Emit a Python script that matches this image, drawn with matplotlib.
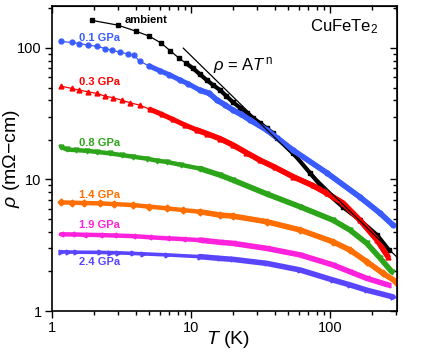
import numpy as np
import matplotlib.pyplot as plt
from matplotlib.ticker import LogLocator, NullFormatter, FixedLocator, FixedFormatter

plt.rcParams['font.family'] = ['Liberation Sans', 'DejaVu Sans']
plt.rcParams['mathtext.fontset'] = 'custom'
plt.rcParams['mathtext.rm'] = 'Liberation Sans'
plt.rcParams['mathtext.it'] = 'Liberation Sans:italic'

# ---- data (T in K, rho in mOhm-cm) ----
T_amb = [1.94, 2.98, 4.02, 4.99, 6.09, 7.06, 8.2, 9.2, 10.3, 11.6, 13.0, 14.5, 16.2,
         18.0, 20.0, 22.5, 25.3, 28.0, 31.4, 35.0, 38.9, 41.6, 54.2, 71.8, 95.1,
         124, 164, 218, 266]
rho_amb = [162, 149, 134, 123, 109, 95.5, 83.6, 76.5, 70.2, 63.0, 56.9, 52.0, 47.8,
           43.0, 38.7, 35.2, 32.0, 29.3, 26.8, 24.5, 22.5, 20.6, 15.9, 11.2, 7.88,
           6.17, 4.91, 3.78, 2.9]

T_01 = [1.155, 1.39, 1.57, 1.82, 2.10, 2.41, 2.69, 3.08, 3.54, 3.89, 4.29, 5.0,
        5.98, 7.0, 8.34, 9.5, 11.6, 13.5, 15.4, 17.5, 20.0, 23.0, 26.6, 35.2,
        54.2, 95.1, 164, 229, 284]
rho_01 = [112, 110, 108, 105, 103, 99, 96, 93, 89.7, 88.0, 79.0, 73.0,
          67.0, 62.5, 57.0, 53.5, 47.7, 45.2, 40.1, 37.0, 33.7, 31.2, 28.3, 23.7,
          16.7, 11.2, 7.35, 5.55, 4.5]

T_03 = [1.155, 1.39, 1.57, 1.82, 2.10, 2.41, 2.76, 3.17, 3.64, 4.29, 5.07,
        6.2, 7.42, 9.0, 11.0, 13.0, 16.2, 20.0, 25.0, 31.4, 40.0, 54.2, 75.0,
        95.1, 124, 164, 218, 261]
rho_03 = [51.3, 49.2, 47.8, 46.4, 45.1, 43.0, 41.8, 40.1, 38.3, 36.7, 34.1,
          31.2, 28.6, 26.0, 23.8, 22.3, 20.4, 18.3, 16.0, 14.0, 12.4, 10.5, 9.0,
          7.84, 6.62, 4.91, 3.46, 2.59]

T_08 = [1.16, 1.28, 1.5, 1.8, 2.1, 2.6, 3.2, 3.83, 4.8, 5.7, 6.7, 8.5, 11.6, 16.2,
        20.0, 35.2, 61, 105, 139, 184, 229, 278]
rho_08 = [17.7, 16.9, 16.7, 16.5, 16.2, 15.8, 15.3, 14.9, 14.4, 13.9, 13.6, 12.9, 12.1, 10.8,
          9.9, 7.75, 6.2, 4.91, 4.13, 3.27, 2.53, 1.99]

T_14 = [1.16, 1.4, 1.7, 2.21, 2.8, 3.83, 5.0, 6.7, 8.8, 11.6, 16.2, 20.0, 35.2, 61,
        105, 139, 184, 241, 300]
rho_14 = [6.70, 6.66, 6.62, 6.58, 6.50, 6.39, 6.22, 6.03, 5.85, 5.68, 5.36, 5.27, 4.77, 4.13,
          3.36, 2.91, 2.37, 1.93, 1.67]

T_19 = [1.16, 1.4, 1.7, 2.21, 2.8, 3.83, 5.0, 6.7, 8.8, 11.6, 16.2, 20.0, 35.2, 61,
        105, 139, 184, 261]
rho_19 = [3.83, 3.82, 3.80, 3.78, 3.75, 3.71, 3.64, 3.57, 3.52, 3.46, 3.33, 3.27, 2.99, 2.67,
          2.24, 1.99, 1.77, 1.58]

T_24 = [1.16, 1.3, 1.5, 2.21, 2.6, 3.0, 3.83, 4.5, 6.7, 11.6, 16.2, 20.0, 35.2, 61,
        105, 139, 184, 284]
rho_24 = [2.82, 2.81, 2.80, 2.79, 2.78, 2.77, 2.74, 2.72, 2.67, 2.59, 2.51, 2.47, 2.30, 2.05,
          1.72, 1.58, 1.44, 1.28]

# power-law guide line end points
T_fit = [8.8, 303]
rho_fit = [99.6, 2.57]

# name, T, rho, colour, marker, T where the dense band starts, band width
series = [
    ('ambient', T_amb, rho_amb, 'black', 's', 9, 3.0),
    ('0.1 GPa', T_01, rho_01, '#3a5cff', 'o', 4.5, 3.6),
    ('0.3 GPa', T_03, rho_03, '#ff0000', '^', 4.5, 3.6),
    ('0.8 GPa', T_08, rho_08, '#2ca51a', 'v', 1, 3.2),
    ('1.4 GPa', T_14, rho_14, '#ff6e00', 'D', 1, 3.2),
    ('1.9 GPa', T_19, rho_19, '#ff22dd', '<', 1, 3.2),
    ('2.4 GPa', T_24, rho_24, '#5a45ff', '>', 1, 2.6),
]

fig = plt.figure(figsize=(4.43, 3.59), dpi=100)
ax = fig.add_axes([0.1174, 0.1337, 0.7786, 0.8493])

for name, T, rho, c, m, tthick, lw in series:
    T = np.array(T)
    rho = np.array(rho)
    ax.plot(T, rho, color=c, lw=0.9, marker=m, ms=3.5, mec=c, mfc=c)
    sel = T >= tthick
    ax.plot(T[sel], rho[sel], color=c, lw=lw, solid_capstyle='round')

# high-T ends get thicker (data points pile up there)
for name, T, rho, c, m, tthick, lw in series[1:]:
    T = np.array(T)
    rho = np.array(rho)
    sel = T >= 10
    ax.plot(T[sel], rho[sel], color=c, lw=4, solid_capstyle='round')

ax.plot(T_fit, rho_fit, color='black', lw=0.9)

ax.set_xscale('log')
ax.set_yscale('log')
ax.set_xlim(1, 303)
ax.set_ylim(1, 208)

ax.xaxis.set_major_locator(FixedLocator([1, 10, 100]))
ax.xaxis.set_major_formatter(FixedFormatter(['1', '10', '100']))
ax.yaxis.set_major_locator(FixedLocator([1, 10, 100]))
ax.yaxis.set_major_formatter(FixedFormatter(['1', '10', '100']))
ax.xaxis.set_minor_locator(LogLocator(base=10, subs=np.arange(2, 10)))
ax.yaxis.set_minor_locator(LogLocator(base=10, subs=np.arange(2, 10)))
ax.xaxis.set_minor_formatter(NullFormatter())
ax.yaxis.set_minor_formatter(NullFormatter())

ax.tick_params(which='both', direction='out', top=False, right=False, labelsize=10.5, width=1)
ax.tick_params(which='major', length=5, pad=2.5)
ax.tick_params(which='minor', length=3)
# mirrored ticks pointing inwards on top/right
ax2 = ax.secondary_xaxis('top')
ax2.xaxis.set_major_locator(FixedLocator([1, 10, 100]))
ax2.xaxis.set_minor_locator(LogLocator(base=10, subs=np.arange(2, 10)))
ax2.tick_params(which='both', direction='in', labeltop=False, width=1)
ax2.tick_params(which='major', length=5)
ax2.tick_params(which='minor', length=3)
ax2.xaxis.set_major_formatter(NullFormatter())
ax2.xaxis.set_minor_formatter(NullFormatter())
ay2 = ax.secondary_yaxis('right')
ay2.yaxis.set_major_locator(FixedLocator([1, 10, 100]))
ay2.yaxis.set_minor_locator(LogLocator(base=10, subs=np.arange(2, 10)))
ay2.tick_params(which='both', direction='in', labelright=False, width=1)
ay2.tick_params(which='major', length=5)
ay2.tick_params(which='minor', length=3)
ay2.yaxis.set_major_formatter(NullFormatter())
ay2.yaxis.set_minor_formatter(NullFormatter())

for s in ax.spines.values():
    s.set_linewidth(1.2)

ax.set_xlabel(r'$\mathit{T}$ (K)', fontsize=14)
ax.set_ylabel(r'$\rho$ (m$\Omega$$-$cm)', fontsize=14)
ax.xaxis.set_label_coords(0.51, -0.06)
ax.yaxis.set_label_coords(-0.088, 0.5)

# curve labels
lab_T = [3.35, 1.57, 1.57, 1.57, 1.57, 1.57, 1.57]
lab_rho = [163, 118, 55.3, 19.1, 7.68, 4.48, 2.36]
for (name, T, rho, c, m, tt, lw), lx, ly in zip(series, lab_T, lab_rho):
    ax.text(lx, ly, name, color=c, fontsize=8, fontweight='bold', ha='left', va='center')

ax.text(0.945, 0.931, r'CuFeTe$_2$', transform=ax.transAxes, fontsize=12, ha='right', va='center')
ax.text(14.4, 74, r'$\rho$ = A$\mathit{T}^{\,\mathrm{n}}$', fontsize=12, ha='left', va='center')

fig.savefig('out.png', dpi=100)
